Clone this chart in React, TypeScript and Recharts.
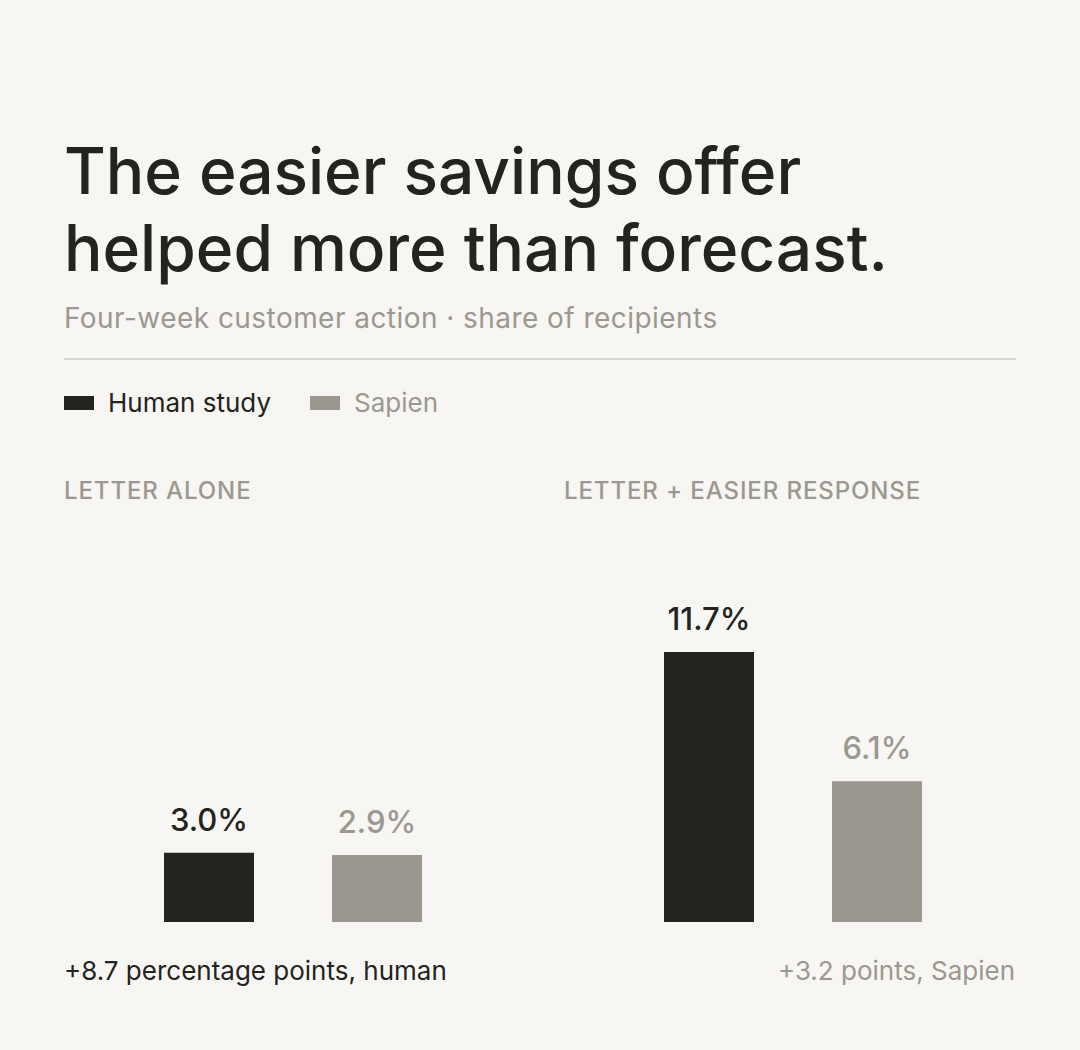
import { BarChart, Bar, XAxis, YAxis, LabelList } from 'recharts';

const BG = '#f7f6f2';
const INK = '#23231f';
const STONE = '#9b988f';
const RULE = '#d8d6d0';
const FONT = 'Inter, "Noto Sans", sans-serif';

const PANEL_TITLES = ['LETTER ALONE', 'LETTER + EASIER RESPONSE'];
const HUMAN = [3.0, 11.7];
const SAPIEN = [2.9, 6.1];
const NOTES = ['+8.7 percentage points, human', '+3.2 points, Sapien'];
const SERIES_NAMES = ['Human study', 'Sapien'];
const SERIES_COLORS = [INK, STONE];

const pct = (v: number) => `${v.toFixed(1)}%`;

function Panel({ i, left }: { i: number; left: number }) {
  const data = [{ name: PANEL_TITLES[i], human: HUMAN[i], sapien: SAPIEN[i] }];
  return (
    <div style={{ position: 'absolute', left, top: 576 }}>
      <BarChart
        width={446}
        height={348}
        data={data}
        margin={{ top: 0, right: 0, bottom: 2, left: 0 }}
        barSize={90}
        barGap={78}
      >
        <XAxis
          dataKey="name"
          height={0}
          tick={false}
          tickLine={false}
          axisLine={{ stroke: RULE, strokeWidth: 2 }}
          padding={{ left: 12, right: 0 }}
        />
        <YAxis hide domain={[0, 15]} />
        <Bar dataKey="human" fill={SERIES_COLORS[0]} isAnimationActive={false}>
          <LabelList
            dataKey="human"
            position="top"
            offset={22}
            formatter={(v: any) => pct(Number(v))}
            fill={INK}
            fontSize={31}
            fontFamily={FONT}
            fontWeight={500}
          />
        </Bar>
        <Bar dataKey="sapien" fill={SERIES_COLORS[1]} isAnimationActive={false}>
          <LabelList
            dataKey="sapien"
            position="top"
            offset={22}
            formatter={(v: any) => pct(Number(v))}
            fill={STONE}
            fontSize={31}
            fontFamily={FONT}
            fontWeight={500}
          />
        </Bar>
      </BarChart>
    </div>
  );
}

export default function App() {
  const abs = (top: number, left: number, extra: React.CSSProperties = {}): React.CSSProperties => ({
    position: 'absolute',
    top,
    left,
    whiteSpace: 'nowrap',
    ...extra,
  });

  return (
    <div
      style={{
        position: 'absolute',
        top: 0,
        left: 0,
        width: 1080,
        height: 1050,
        background: BG,
        fontFamily: FONT,
        color: INK,
        overflow: 'hidden',
      }}
    >
      <div style={abs(132, 64, { fontSize: 64, lineHeight: '77px', fontWeight: 500, letterSpacing: 0 })}>
        The easier savings offer
        <br />
        helped more than forecast.
      </div>
      <div style={abs(301, 64, { fontSize: 28, lineHeight: '34px', color: STONE, letterSpacing: 0.45 })}>
        Four-week customer action · share of recipients
      </div>
      <div style={{ position: 'absolute', top: 358, left: 64, width: 952, height: 2, background: RULE }} />

      {/* legend */}
      {SERIES_NAMES.map((name, k) => (
        <div key={name} style={abs(388, k === 0 ? 64 : 310, { display: 'flex', alignItems: 'center' })}>
          <div style={{ width: 30, height: 14, background: SERIES_COLORS[k], marginRight: 14 }} />
          <span style={{ fontSize: 26, lineHeight: '30px', color: k === 0 ? INK : STONE }}>{name}</span>
        </div>
      ))}

      {PANEL_TITLES.map((t, i) => (
        <div
          key={t}
          style={abs(476, i === 0 ? 64 : 564, {
            fontSize: 24,
            lineHeight: '30px',
            fontWeight: 500,
            color: STONE,
            letterSpacing: 0.9,
          })}
        >
          {t}
        </div>
      ))}

      <Panel i={0} left={64} />
      <Panel i={1} left={564} />

      <div style={abs(956, 64, { fontSize: 26, lineHeight: '30px', color: INK })}>{NOTES[0]}</div>
      <div style={{ ...abs(956, 0, { fontSize: 26, lineHeight: '30px', color: STONE }), left: undefined, right: 65 }}>
        {NOTES[1]}
      </div>
    </div>
  );
}
